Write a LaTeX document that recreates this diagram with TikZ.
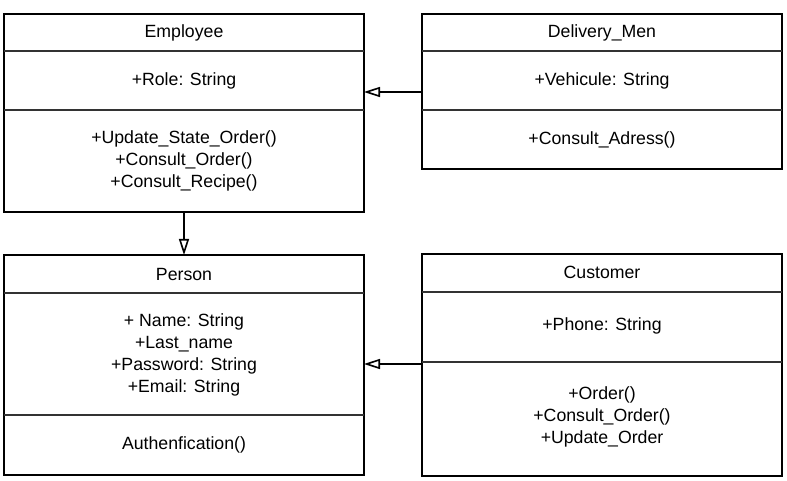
\documentclass[tikz,border=0pt]{standalone}
\usepackage{fontspec}
\setmainfont{Liberation Sans}
\usetikzlibrary{arrows.meta}
\begin{document}
\begin{tikzpicture}[x=1pt,y=-1pt,
  classbox/.style={draw, line width=2pt, minimum width=360pt, inner sep=0pt, outer sep=0pt},
  sep/.style={line width=1.3pt, draw=black!80},
  txt/.style={align=center, font=\fontsize{17.7}{22}\selectfont, inner sep=0pt},
  inherit/.style={line width=2pt, -{Triangle[open, length=16pt, width=10pt, line width=1.6pt]}}
]
\useasboundingbox (0,0) rectangle (787,481);

% class outlines
\node[classbox, minimum height=198pt] (emp) at (184,113) {};
\node[classbox, minimum height=155pt] (del) at (602,91.5) {};
\node[classbox, minimum height=220pt] (per) at (184,365) {};
\node[classbox, minimum height=222pt] (cus) at (602,365) {};

% compartment separators
\draw[sep] (emp.west |- 0,51) -- (emp.east |- 0,51);
\draw[sep] (emp.west |- 0,110) -- (emp.east |- 0,110);
\draw[sep] (del.west |- 0,51) -- (del.east |- 0,51);
\draw[sep] (del.west |- 0,110) -- (del.east |- 0,110);
\draw[sep] (per.west |- 0,293) -- (per.east |- 0,293);
\draw[sep] (per.west |- 0,415) -- (per.east |- 0,415);
\draw[sep] (cus.west |- 0,292) -- (cus.east |- 0,292);
\draw[sep] (cus.west |- 0,362) -- (cus.east |- 0,362);

% Employee
\node[txt] (empname) at (184,33) {Employee};
\node[txt] (empattr) at (184,81) {+Role: String};
\node[txt] (empops) at (184,161) {+Update\_State\_Order()\\+Consult\_Order()\\+Consult\_Recipe()};

% Delivery_Men
\node[txt] (delname) at (602,33) {Delivery\_Men};
\node[txt] (delattr) at (602,81) {+Vehicule: String};
\node[txt] (delops) at (602,140) {+Consult\_Adress()};

% Person
\node[txt] (pername) at (184,274) {Person};
\node[txt] (perattr) at (184,354.5) {+ Name: String\\+Last\_name\\+Password: String\\+Email: String};
\node[txt] (perops) at (184,445) {Authenfication()};

% Customer
\node[txt] (cusname) at (602,272) {Customer};
\node[txt] (cusattr) at (602,326) {+Phone: String};
\node[txt] (cusops) at (602,417) {+Order()\\+Consult\_Order()\\+Update\_Order};

% generalisations
\draw[inherit] (del.west |- 0,92) -- (emp.east |- 0,92);
\draw[inherit] (emp.south) -- (per.north);
\draw[inherit] (cus.west |- 0,364) -- (per.east |- 0,364);
\end{tikzpicture}
\end{document}
